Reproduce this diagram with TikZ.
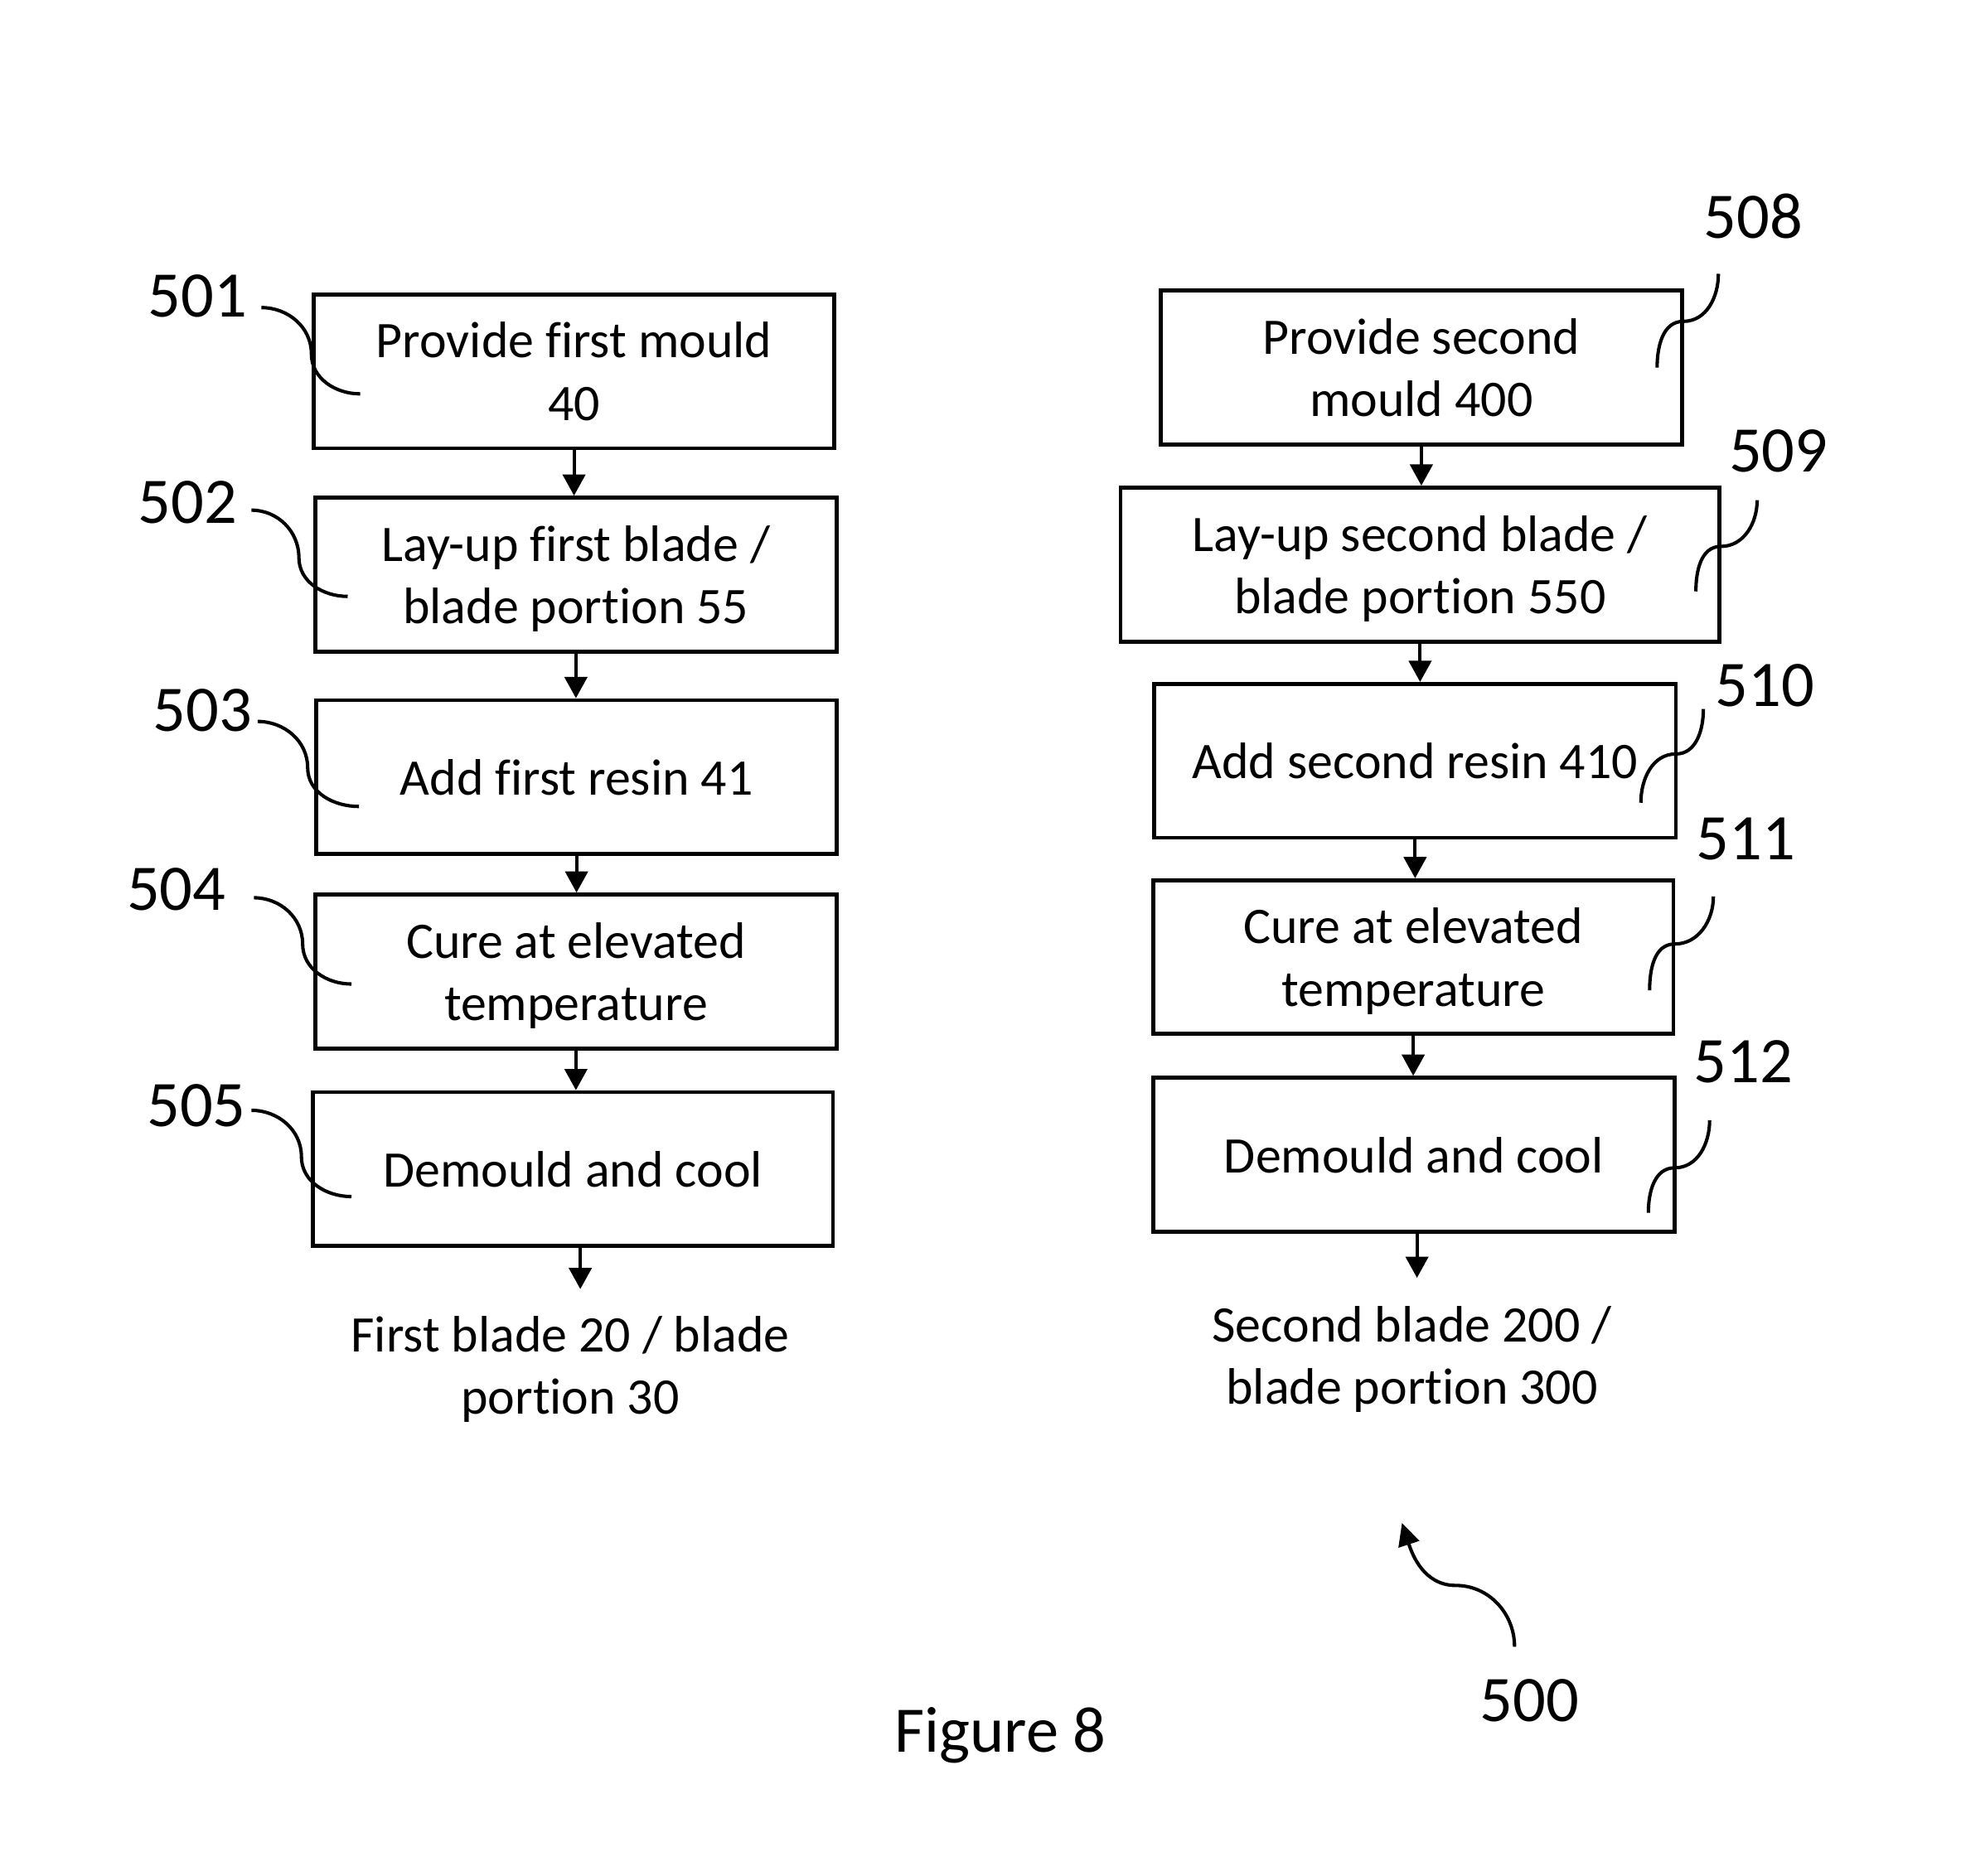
\documentclass[tikz,border=0pt]{standalone}
\usepackage{fontspec}
\setmainfont{Carlito}[Ligatures=NoCommon]
\usetikzlibrary{arrows.meta}
\begin{document}
\begin{tikzpicture}[x=1pt,y=1pt,
  stepbox/.style={draw, line width=3.2pt, minimum width=417pt, minimum height=123pt,
    inner sep=0pt, align=center, text depth=0pt, font=\fontsize{41}{50}\selectfont},
  flow/.style={line width=2.6pt, -{Triangle[width=18pt,length=17pt]}},
  lead/.style={line width=2.7pt},
  refnum/.style={inner sep=0pt, font=\fontsize{52}{62}\selectfont},
  result/.style={inner sep=0pt, align=center, font=\fontsize{41}{50}\selectfont}
]
\useasboundingbox (0,0) rectangle (1568,-1500);

% ---- first process: blade 20 ----
\node[stepbox, minimum width=416pt] (b501) at (459,-297)   {Provide first mould\\40};
\node[stepbox]                      (b502) at (460.5,-459.5) {Lay-up first blade /\\blade portion 55};
\node[stepbox, minimum width=416pt] (b503) at (461,-621.5) {Add first resin 41};
\node[stepbox]                      (b504) at (460.5,-777) {Cure at elevated\\temperature};
\node[stepbox, minimum width=416pt] (b505) at (458,-935)   {Demould and cool};
\node[result] (r1) at (456,-1095) {First blade 20 / blade\\portion 30};
\coordinate (e1) at (464,-1031);

\draw[flow] (b501.south) -- (b501.south |- b502.north);
\draw[flow] (b502.south) -- (b502.south |- b503.north);
\draw[flow] (b503.south) -- (b503.south |- b504.north);
\draw[flow] (b504.south) -- (b504.south |- b505.north);
\draw[flow] (e1 |- b505.south) -- (e1);

% ---- second process: blade 200 ----
\node[stepbox]                      (b508) at (1136.5,-294) {Provide second\\mould 400};
\node[stepbox, minimum width=479pt] (b509) at (1135.5,-451.5) {Lay-up second blade /\\blade portion 550};
\node[stepbox]                      (b510) at (1131.5,-608.5) {Add second resin 410};
\node[stepbox, minimum width=416pt] (b511) at (1130,-765.5) {Cure at elevated\\temperature};
\node[stepbox]                      (b512) at (1130.5,-923.5) {Demould and cool};
\node[result] (r2) at (1129,-1087) {Second blade 200 /\\blade portion 300};
\coordinate (e2) at (1133,-1022);

\draw[flow] (b508.south) -- (b508.south |- b509.north);
\draw[flow] (b509.south) -- (b509.south |- b510.north);
\draw[flow] (b510.south) -- (b510.south |- b511.north);
\draw[flow] (b511.south) -- (b511.south |- b512.north);
\draw[flow] (e2 |- b512.south) -- (e2);

% ---- reference numerals ----
\node[refnum] (n501) at (158,-237) {501};
\node[refnum] (n502) at (150,-402) {502};
\node[refnum] (n503) at (162,-568) {503};
\node[refnum] (n504) at (141,-711) {504};
\node[refnum] (n505) at (157,-884) {505};
\node[refnum] (n508) at (1402,-173) {508};
\node[refnum] (n509) at (1422,-361) {509};
\node[refnum] (n510) at (1411,-548) {510};
\node[refnum] (n511) at (1396,-671) {511};
\node[refnum] (n512) at (1394,-849) {512};
\node[refnum] (n500) at (1223,-1360) {500};

% ---- leader lines ----
\draw[lead] (209,-246) to[out=0,in=90] (249,-283) to[out=-90,in=180] (288,-315);
\draw[lead] (201,-408) to[out=0,in=90] (239,-446) to[out=-90,in=180] (278,-477);
\draw[lead] (206,-577) to[out=0,in=90] (246,-614) to[out=-90,in=180] (287,-645);
\draw[lead] (203,-718) to[out=0,in=90] (242,-755) to[out=-90,in=180] (281,-787);
\draw[lead] (201,-888) to[out=0,in=90] (241,-925) to[out=-90,in=180] (281,-957);

\draw[lead] (1374,-219) to[out=-90,in=0] (1346,-257) to[out=180,in=90] (1325,-294);
\draw[lead] (1405,-400) to[out=-90,in=0] (1376,-437) to[out=180,in=90] (1356,-473);
\draw[lead] (1362,-567) to[out=-90,in=0] (1340,-603) to[out=180,in=90] (1312,-642);
\draw[lead] (1370,-717) to[out=-90,in=0] (1339,-755) to[out=180,in=90] (1319,-792);
\draw[lead] (1367,-896) to[out=-90,in=0] (1339,-934) to[out=180,in=90] (1318,-970);

\draw[lead, -{Triangle[width=17pt,length=18pt]}]
  (1211,-1317) to[out=90,in=0] (1164,-1268) to[out=180,in=-72] (1121,-1218);

\node[refnum, anchor=base] (fig) at (800,-1401) {Figure 8};
\end{tikzpicture}
\end{document}
